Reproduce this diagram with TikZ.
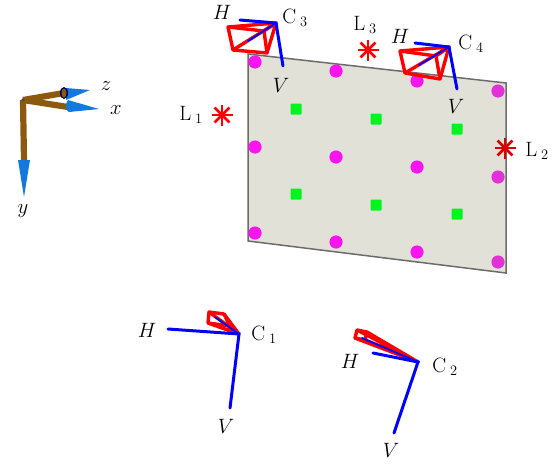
\documentclass[tikz,border=0pt]{standalone}
\usepackage{amsmath}
\definecolor{plategray}{RGB}{225,225,215}
\definecolor{dotpink}{RGB}{250,20,240}
\definecolor{dotdark}{RGB}{225,50,215}
\definecolor{padgreen}{RGB}{0,245,30}
\definecolor{rodbrown}{RGB}{140,90,15}
\definecolor{conblue}{RGB}{20,120,220}
\tikzset{
	lab/.style={font=\huge, inner sep=0pt},
	axisline/.style={blue, line width=3pt, line cap=round},
	frustum/.style={red, line width=3.4pt, line join=round},
	lamp/.style={red, line width=2.6pt},
	rod/.style={rodbrown, line width=6.2pt},
	cone/.style={fill=conblue, draw=none},
}
\begin{document}
\begin{tikzpicture}[x=1pt, y=-1pt]
	\useasboundingbox (0,0) rectangle (559,463);
	% plate
	\draw[fill=plategray, draw=gray!85!black, line width=1.5pt] (248,54) -- (506,83) -- (506,273) -- (248,241) -- cycle;
	\foreach \px/\py [count = \i] in {255/62, 336/71, 417/81, 255/147, 336/157, 417/167, 255/233, 336/242, 417/252}{
			\fill[dotpink] (\px, \py) circle (6.6);
		}
	\foreach \py in {91, 177, 262}{
			\fill[dotdark] (498, \py) circle (6.6);
		}
	\foreach \px/\py in {296/109, 376/119, 457/129, 296/194, 376/205, 457/214}{
			\fill[padgreen, rounded corners=.8pt] (\px - 5.5, \py - 5.5) rectangle (\px + 5.5, \py + 5.5);
		}
	% lamps
	\foreach \name/\px/\py/\shade in {1/222/115/red, 2/505/148/red!85!black, 3/368/50/red}{
			\coordinate (L\name) at (\px, \py);
			\foreach \ang in {0, 45, 90, 135}{
					\draw[lamp, \shade] (L\name) ++(\ang:10.5) -- ++(\ang + 180:21);
				}
		}
	\node[lab] (labL1) at (191,115) {\(\mathrm{L}_{\;1}\)};
	\node[lab] (labL2) at (537,151) {\(\mathrm{L}_{\;2}\)};
	\node[lab] (labL3) at (365,25) {\(\mathrm{L}_{\;3}\)};
	% cameras
	\foreach \cam/\apex/\hend/\vend/\tl/\tr/\br/\bl/\mid in {
			1/{239,334}/{168,329}/{230,408}/{209,312}/{224,314}/{230,326}/{208,323}/{215,317},
			2/{418,362}/{373,353}/{394,433}/{357,330}/{367,332}/{365,340}/{355,338}/{362,338},
			3/{276,23}/{240,20}/{283,66}/{228,27}/{264,31}/{267,53}/{233,50}/{248,41},
			4/{449,47}/{415,43}/{457,89}/{400,51}/{436,56}/{440,79}/{405,73}/{419,65}}{
			\coordinate (A\cam) at (\apex);
			\coordinate (H\cam) at (\hend);
			\coordinate (V\cam) at (\vend);
			\coordinate (M\cam) at (\mid);
			\draw[frustum] (\tl) -- (\tr) -- (\br) -- (\bl) -- cycle;
			\draw[frustum] (\tl) -- (A\cam) -- (\tr) (\br) -- (A\cam) -- (\bl);
			\draw[axisline] (H\cam) -- (A\cam) -- (V\cam);
			\draw[axisline, line width=1.8pt] (A\cam) -- (M\cam);
		}
	\node[lab] (labC1) at (264,335) {\(\mathrm{C}_{\;1}\)};
	\node[lab] (labC2) at (445,367) {\(\mathrm{C}_{\;2}\)};
	\node[lab] (labC3) at (295,18) {\(\mathrm{C}_{\;3}\)};
	\node[lab] (labC4) at (471,44) {\(\mathrm{C}_{\;4}\)};
	\node[lab] (labH1) at (147,330) {\(H\)};
	\node[lab] (labH2) at (350,361) {\(H\)};
	\node[lab] (labH3) at (222,12) {\(H\)};
	\node[lab] (labH4) at (400,36) {\(H\)};
	\node[lab] (labV1) at (226,426) {\(V\)};
	\node[lab] (labV2) at (391,450) {\(V\)};
	\node[lab] (labV3) at (281,85) {\(V\)};
	\node[lab] (labV4) at (456,106) {\(V\)};
	% triad
	\coordinate (origin) at (23,100);
	\coordinate (zend) at (64,93);
	\coordinate (xend) at (68,107);
	\coordinate (yend) at (24,160);
	\draw[rod] (origin) -- (zend);
	\draw[rod] (origin) -- (xend);
	\draw[rod] (origin) -- (yend);
	\fill[black!70] (origin) circle (1.8);
	\fill[cone] (66,88) -- (90,90) -- (66,100) -- cycle;
	\fill[black!60!blue] (zend) ellipse (4 and 6);
	\fill[rodbrown] (zend) ellipse (2.5 and 4.5);
	\fill[cone] (68,100) .. controls (65,104) and (65,110) .. (69,112) -- (99,109) -- cycle;
	\fill[cone] (18,160) -- (30,160) -- (24,197) -- cycle;
	\node[lab] (labz) at (106,86) {\(z\)};
	\node[lab] (labx) at (116,110) {\(x\)};
	\node[lab] (laby) at (23,211) {\(y\)};
\end{tikzpicture}
\end{document}
